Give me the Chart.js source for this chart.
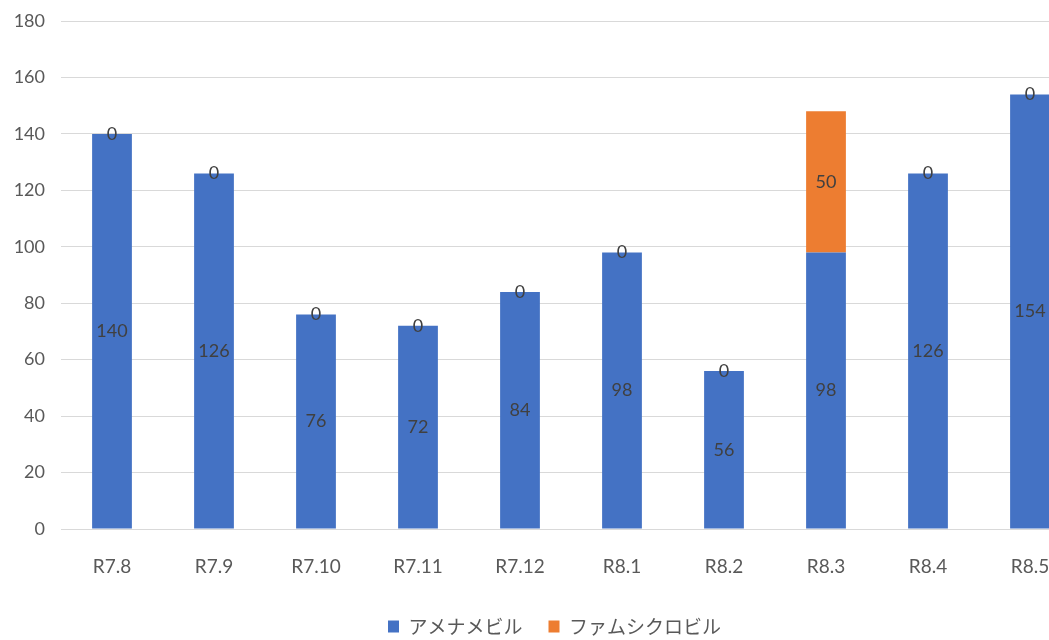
<!DOCTYPE html>
<html lang="ja">
<head>
<meta charset="utf-8">
<title>月別処方数</title>
<script src="https://cdn.jsdelivr.net/npm/chart.js@4/dist/chart.umd.min.js"></script>
<style>
  html, body { margin: 0; padding: 0; background: #ffffff; overflow: hidden; }
  #wrap { width: 1049px; height: 640px; overflow: hidden; position: relative; }
  canvas { display: block; }
</style>
</head>
<body>
<div id="wrap"><canvas id="c" width="1104" height="646"></canvas></div>
<script>
// 月ごとの処方数
const months = ['R7.8', 'R7.9', 'R7.10', 'R7.11', 'R7.12', 'R8.1', 'R8.2', 'R8.3', 'R8.4', 'R8.5'];
const amenamevir = [140, 126, 76, 72, 84, 98, 56, 98, 126, 154];
const famciclovir = [0, 0, 0, 0, 0, 0, 0, 50, 0, 0];
const seriesNames = ['アメナメビル', 'ファムシクロビル'];
const yTicks = [0, 20, 40, 60, 80, 100, 120, 140, 160, 180];

const LATIN = 'Lato, "Noto Sans", sans-serif';
const JP = '"Noto Sans CJK JP", "Noto Sans", sans-serif';

// 各棒の中央に値を描く
const valueLabels = {
  id: 'valueLabels',
  afterDatasetsDraw(chart) {
    const ctx = chart.ctx;
    ctx.save();
    ctx.font = '18px ' + LATIN;
    ctx.fillStyle = '#404040';
    ctx.textAlign = 'center';
    ctx.textBaseline = 'middle';
    chart.data.datasets.forEach((ds, i) => {
      const meta = chart.getDatasetMeta(i);
      meta.data.forEach((bar, j) => {
        const mid = (bar.y + bar.base) / 2;
        ctx.fillText(String(ds.data[j]), bar.x, mid);
      });
    });
    ctx.restore();
  }
};

// 凡例を少し右へ寄せる
const legendShift = {
  id: 'legendShift',
  afterLayout(chart) {
    const lg = chart.legend;
    if (lg) { lg.left += 14; lg.right += 14; }
  }
};

new Chart(document.getElementById('c'), {
  type: 'bar',
  data: {
    labels: months,
    datasets: [
      { label: seriesNames[0], data: amenamevir, backgroundColor: '#4472C4' },
      { label: seriesNames[1], data: famciclovir, backgroundColor: '#ED7D31' }
    ]
  },
  options: {
    responsive: false,
    animation: false,
    layout: { padding: { top: 21, right: 23, left: 0, bottom: 0 } },
    datasets: { bar: { categoryPercentage: 1.0, barPercentage: 0.39 } },
    scales: {
      x: {
        stacked: true,
        grid: { display: false },
        border: { display: true, color: '#d9d9d9', width: 1 },
        afterFit(scale) { scale.height = 62; },
        ticks: { color: '#595959', font: { family: LATIN, size: 19 }, padding: 18, maxRotation: 0 }
      },
      y: {
        stacked: true,
        min: 0,
        max: 180,
        afterBuildTicks(scale) { scale.ticks = yTicks.map(v => ({ value: v })); },
        grid: { color: '#d9d9d9', lineWidth: 1, drawTicks: false },
        border: { display: false },
        afterFit(scale) {
          scale.width = 61;
          scale.paddingTop = 0;
          scale.paddingBottom = 0;
        },
        ticks: { color: '#595959', font: { family: LATIN, size: 18 }, padding: 16 }
      }
    },
    plugins: {
      legend: {
        position: 'bottom',
        labels: {
          color: '#595959',
          font: { family: JP, size: 19 },
          boxWidth: 11,
          boxHeight: 12,
          padding: 26
        }
      },
      tooltip: { enabled: false }
    }
  },
  plugins: [valueLabels, legendShift]
});
</script>
</body>
</html>
